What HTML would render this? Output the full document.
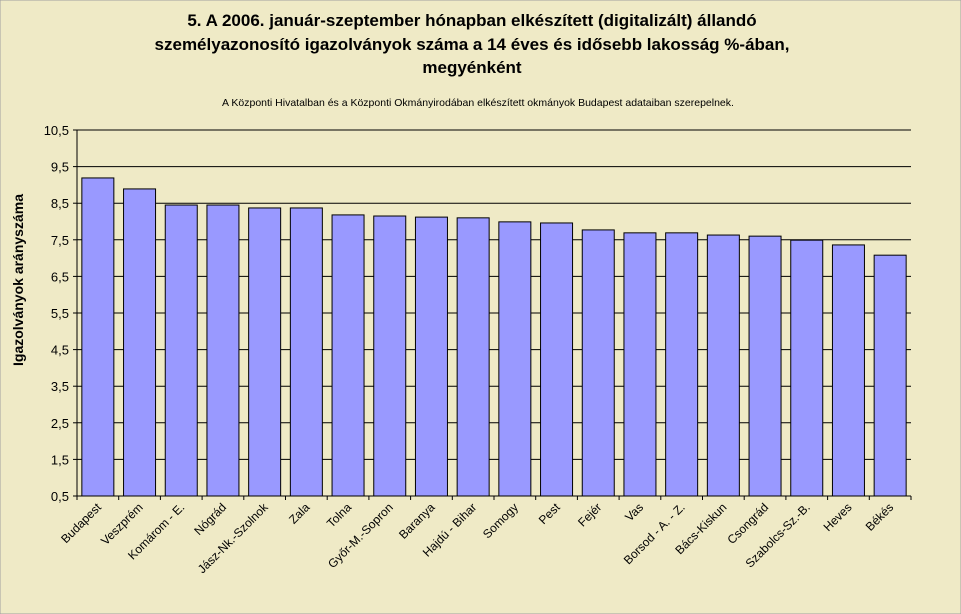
<!DOCTYPE html>
<html><head><meta charset="utf-8"><style>
body{margin:0;background:#efeac6;}
svg{display:block;font-family:"Liberation Sans",Arial,sans-serif;}
</style></head><body>
<svg id="c" width="961" height="614">
<rect x="0" y="0" width="961" height="614" fill="#efeac6" stroke="#a0a0a0"/>
<g font-weight="bold" font-size="17" text-anchor="middle">
<text x="472" y="26">5. A 2006. január-szeptember hónapban elkészített (digitalizált) állandó</text>
<text x="472" y="50">személyazonosító igazolványok száma a 14 éves és idősebb lakosság %-ában,</text>
<text x="472" y="73">megyénként</text>
</g>
<text x="478" y="106" font-size="10.5" text-anchor="middle">A  Központi Hivatalban és a Központi Okmányirodában elkészített  okmányok Budapest adataiban szerepelnek.</text>
<text transform="translate(23,280) rotate(-90)" font-size="14" font-weight="bold" text-anchor="middle">Igazolványok arányszáma</text>
<g id="grid"></g><g id="bars"></g><g id="axes"></g>
</svg>
<script>
const categories=["Budapest","Veszprém","Komárom - E.","Nógrád","Jász-Nk.-Szolnok","Zala","Tolna","Győr-M.-Sopron","Baranya","Hajdú - Bihar","Somogy","Pest","Fejér","Vas","Borsod - A. - Z.","Bács-Kiskun","Csongrád","Szabolcs-Sz.-B.","Heves","Békés"];
const values=[9.19,8.89,8.45,8.45,8.37,8.37,8.18,8.15,8.12,8.10,7.99,7.96,7.77,7.69,7.69,7.63,7.60,7.49,7.36,7.08];
const yTicks=[0.5,1.5,2.5,3.5,4.5,5.5,6.5,7.5,8.5,9.5,10.5];
const L=77,R=911,T=130,B=496,ymin=0.5,ymax=10.5;
const y=v=>B-(v-ymin)/(ymax-ymin)*(B-T);
const band=(R-L)/categories.length;
const x=i=>L+i*band;
const NS="http://www.w3.org/2000/svg";
function mk(t,a,p){const e=document.createElementNS(NS,t);for(const k in a)e.setAttribute(k,a[k]);p.appendChild(e);return e;}
const grid=document.getElementById('grid'),bars=document.getElementById('bars'),axes=document.getElementById('axes');
yTicks.forEach(v=>{
 const g=mk('line',{x1:L,x2:R,y1:y(v),y2:y(v),stroke:'#000','stroke-width':1},grid);
 
 
 const t=mk('text',{x:L-8,y:y(v)+5,'font-size':13,'text-anchor':'end'},axes);
 t.textContent=v.toFixed(1).replace('.',',');
 
 
 mk('line',{x1:L-4,x2:L,y1:y(v),y2:y(v),stroke:'#000'},axes);
});
values.forEach((v,i)=>{
 const bw=32,bx=x(i)+(band-bw)/2;
 const r=mk('rect',{x:bx,y:y(v),width:bw,height:B-y(v),fill:'#9999ff',stroke:'#000','stroke-width':1},bars);
 
 
 const cx=x(i)+band/2+4;
 const t=mk('text',{x:cx,y:B+12,'font-size':12,'text-anchor':'end',transform:`rotate(-45 ${cx} ${B+12})`},axes);
 t.textContent=categories[i];
 
 
 mk('line',{x1:x(i),x2:x(i),y1:B,y2:B+4,stroke:'#000'},axes);
});
mk('line',{x1:R,x2:R,y1:B,y2:B+4,stroke:'#000'},axes);
const ax=mk('line',{x1:L,x2:L,y1:T,y2:B,stroke:'#000'},axes);


const xa=mk('line',{x1:L,x2:R,y1:B,y2:B,stroke:'#000'},axes);


</script>
</body></html>
